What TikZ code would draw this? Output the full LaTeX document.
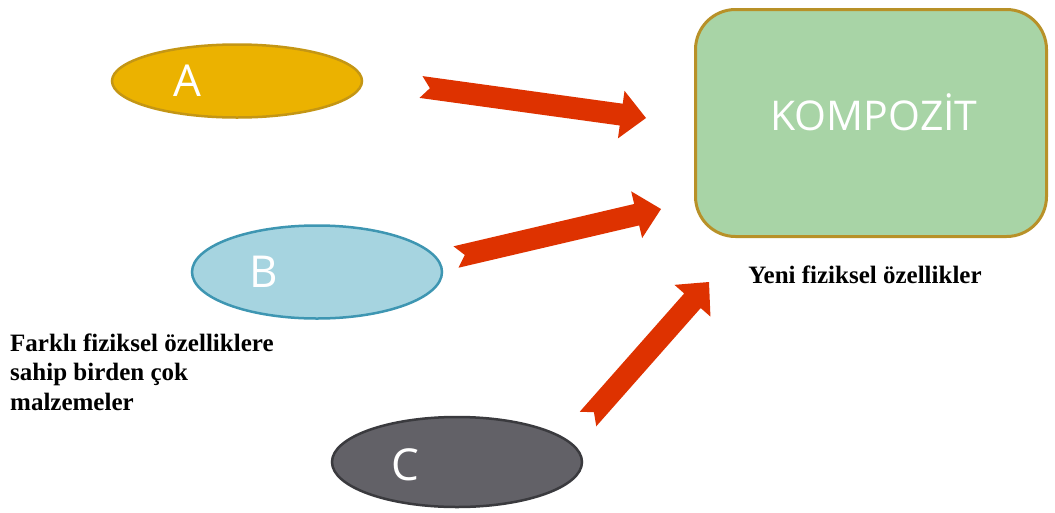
\documentclass[tikz,border=0pt]{standalone}
\usepackage{fontspec}
\setmainfont{Liberation Serif}
\newfontfamily\labelfont{Open Sans}
\usetikzlibrary{shapes.geometric,calc}
\definecolor{aFill}{RGB}{235,178,0}
\definecolor{aLine}{RGB}{196,150,20}
\definecolor{bFill}{RGB}{166,212,224}
\definecolor{bLine}{RGB}{62,150,178}
\definecolor{cFill}{RGB}{98,97,103}
\definecolor{cLine}{RGB}{58,58,62}
\definecolor{boxFill}{RGB}{168,212,166}
\definecolor{boxLine}{RGB}{184,145,40}
\definecolor{arrowRed}{RGB}{222,50,0}
\tikzset{
  blob/.style={ellipse, minimum width=250pt, line width=2.5pt, inner sep=0pt},
  letter/.style={text=white, font=\labelfont\fontsize{44}{44}\selectfont, inner sep=0pt},
  resultbox/.style={draw=boxLine, fill=boxFill, line width=3pt, rounded corners=40pt,
    minimum width=351pt, minimum height=227pt, inner sep=0pt},
  caption/.style={font=\bfseries\fontsize{25}{29.5}\selectfont, inner sep=0pt},
  bigarrow/.style={fill=arrowRed, draw=none}
}
% #1 tail, #2 tip
\newcommand{\notcharrow}[2]{%
  \coordinate (#1hb) at ($(#2)!25pt!(#1)$);
  \fill[bigarrow]
    ($(#1)!11pt!90:(#2)$) -- ($(#1)!9pt!(#2)$) -- ($(#1)!11pt!-90:(#2)$)
    -- ($(#1hb)!11pt!-90:(#2)$) -- ($(#1hb)!24pt!-90:(#2)$) -- (#2)
    -- ($(#1hb)!24pt!90:(#2)$) -- ($(#1hb)!11pt!90:(#2)$) -- cycle;}
\begin{document}
\begin{tikzpicture}[x=1pt,y=-1pt]
\useasboundingbox (0,0) rectangle (1055,512);
\fill[white] (0,0) rectangle (1055,512);
% materials
\node[blob, draw=aLine, fill=aFill, minimum height=73pt] (A) at (237,81) {};
\node[letter] (Al) at (187,81) {A};
\node[blob, draw=bLine, fill=bFill, minimum height=93pt] (B) at (317,272) {};
\node[letter] (Bl) at (264,272) {B};
\node[blob, draw=cLine, fill=cFill, minimum height=90pt] (C) at (457,462) {};
\node[letter] (Cl) at (405,465) {C};
% result
\node[resultbox] (K) at (871,123) {};
\node[text=white, font=\labelfont\fontsize{41}{41}\selectfont, inner sep=0pt] (Kl) at (874,112) {KOMPOZİT};
\node[caption, anchor=base] (Ky) at (865,283) {Yeni fiziksel özellikler};
\node[caption, align=left, anchor=base west] (Fl) at (10,410) {Farklı fiziksel özelliklere\\sahip birden çok\\malzemeler};
% arrows
\coordinate (a1t) at (421,87);  \coordinate (a1h) at (646,118);
\coordinate (a2t) at (456,257); \coordinate (a2h) at (661,209);
\coordinate (a3t) at (588,419); \coordinate (a3h) at (709,282);
\notcharrow{a1t}{a1h}
\notcharrow{a2t}{a2h}
\notcharrow{a3t}{a3h}
\end{tikzpicture}
\end{document}
